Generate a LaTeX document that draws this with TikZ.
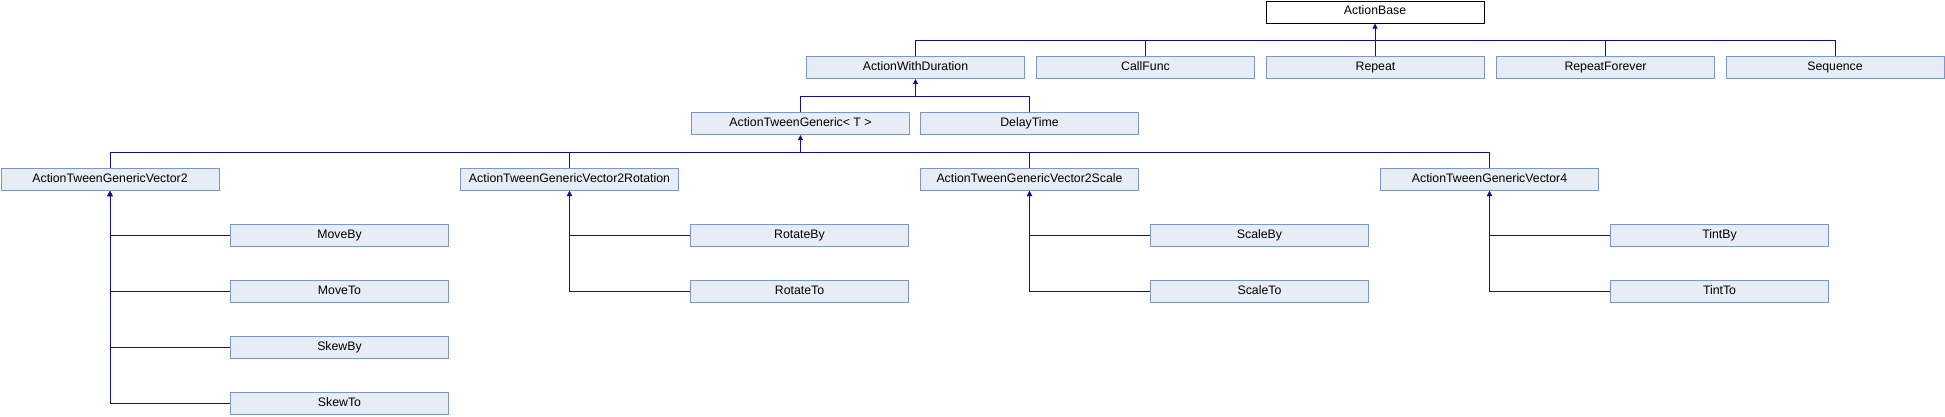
\documentclass[tikz,border=0pt]{standalone}
\usepackage{fontspec}
\setmainfont{Liberation Sans}
\usetikzlibrary{arrows.meta}
\definecolor{edgeblue}{RGB}{16,16,150}
\definecolor{boxfill}{RGB}{232,236,245}
\definecolor{boxline}{RGB}{122,150,203}
\tikzset{
  cls/.style={draw=boxline, fill=boxfill, line width=1pt, minimum width=218pt, minimum height=22pt, inner sep=0pt, text height=8.8pt, text depth=3pt, font=\fontsize{12.3}{14}\selectfont},
  rootcls/.style={cls, draw=black, fill=white},
  edge/.style={draw=edgeblue, line width=1pt},
  inh/.style={edge, -{Triangle[length=5pt,width=5pt]}},
}
\begin{document}
\begin{tikzpicture}[x=1pt,y=-1pt]
\useasboundingbox (0,0) rectangle (1945,416);
% level 0
\node[rootcls] (ab) at (1375,12) {ActionBase};
% level 1
\node[cls] (awd) at (915.5,67.5) {ActionWithDuration};
\node[cls] (cf)  at (1145.5,67.5) {CallFunc};
\node[cls] (rep) at (1375.5,67.5) {Repeat};
\node[cls] (rf)  at (1605.5,67.5) {RepeatForever};
\node[cls] (seq) at (1835,67.5) {Sequence};
% level 2
\node[cls] (atg) at (800.5,123.5) {ActionTweenGeneric< T >};
\node[cls] (dt)  at (1029.5,123.5) {DelayTime};
% level 3
\node[cls] (v2)  at (110,179.5) {ActionTweenGenericVector2};
\node[cls] (v2r) at (569.5,179.5) {ActionTweenGenericVector2Rotation};
\node[cls] (v2s) at (1029.5,179.5) {ActionTweenGenericVector2Scale};
\node[cls] (v4)  at (1489.5,179.5) {ActionTweenGenericVector4};
% level 4
\node[cls] (mb) at (339.5,235.5) {MoveBy};
\node[cls] (mt) at (339.5,291.5) {MoveTo};
\node[cls] (sb) at (339.5,347.5) {SkewBy};
\node[cls] (st) at (339.5,403.5) {SkewTo};
\node[cls] (rb) at (799.5,235.5) {RotateBy};
\node[cls] (rt) at (799.5,291.5) {RotateTo};
\node[cls] (scb) at (1259.5,235.5) {ScaleBy};
\node[cls] (sct) at (1259.5,291.5) {ScaleTo};
\node[cls] (tb) at (1719.5,235.5) {TintBy};
\node[cls] (tt) at (1719.5,291.5) {TintTo};
% buses
\coordinate (b1) at (1375,40);
\coordinate (b2) at (915.5,96);
\coordinate (b3) at (800.5,152);
\foreach \n in {awd,cf,rep,rf,seq} \draw[edge] (\n.north) |- (b1);
\draw[inh] (b1) -- (ab.south);
\foreach \n in {atg,dt} \draw[edge] (\n.north) |- (b2);
\draw[inh] (b2) -- (awd.south);
\foreach \n in {v2,v2r,v2s,v4} \draw[edge] (\n.north) |- (b3);
\draw[inh] (b3) -- (atg.south);
% children
\foreach \c in {mb,mt,sb,st} \draw[inh] (\c.west) -| (v2.south);
\foreach \c in {rb,rt} \draw[inh] (\c.west) -| (v2r.south);
\foreach \c in {scb,sct} \draw[inh] (\c.west) -| (v2s.south);
\foreach \c in {tb,tt} \draw[inh] (\c.west) -| (v4.south);
\end{tikzpicture}
\end{document}
